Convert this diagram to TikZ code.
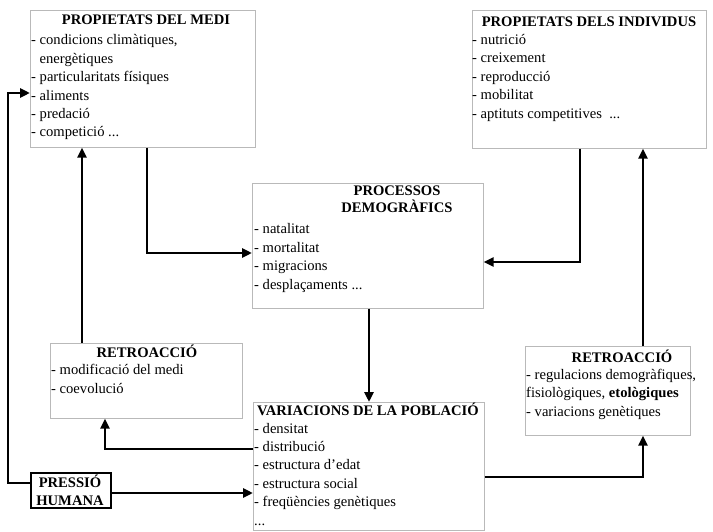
\documentclass[tikz,border=0pt]{standalone}
\usepackage{fontspec}
\setmainfont{Liberation Serif}
\usetikzlibrary{arrows.meta,positioning}

\begin{document}
\begin{tikzpicture}[x=1pt, y=-1pt,
  box/.style={draw=gray!55, line width=0.6pt, anchor=north west, inner sep=0pt},
  hd/.style={font=\fontsize{14.6}{17.5}\selectfont\bfseries, anchor=base, align=center, inner sep=0pt},
  lst/.style={font=\fontsize{14.6}{18.4}\selectfont, anchor=base west, align=left, inner sep=0pt},
  arr/.style={-{Triangle[length=10pt, width=9pt]}, line width=2.5pt}]
\useasboundingbox (0,0) rectangle (713,532);
% boxes
\node[box, minimum width=225pt, minimum height=137pt] (medi) at (30,10) {};
\node[box, minimum width=234pt, minimum height=138pt] (indiv) at (472,10) {};
\node[box, minimum width=231pt, minimum height=125pt] (proc) at (252,183) {};
\node[box, minimum width=231pt, minimum height=128pt] (var) at (253,402) {};
\node[box, minimum width=192pt, minimum height=75pt] (retroL) at (50,343) {};
\node[box, minimum width=165pt, minimum height=89pt] (retroR) at (525,346) {};
\node[box, draw=black, line width=1.6pt, minimum width=80pt, minimum height=35pt] (press) at (30,472) {};
% texts (multi-line nodes sit on their last baseline)
\node[hd] (mediH) at (146,25) {PROPIETATS DEL MEDI};
\node[lst] (mediL) at (31,137) {- condicions climàtiques,\\\phantom{- }energètiques\\- particularitats físiques\\- aliments\\- predació\\- competició ...};
\node[hd] (indivH) at (589,27) {PROPIETATS DELS INDIVIDUS};
\node[lst] (indivL) at (472,119) {- nutrició\\- creixement\\- reproducció\\- mobilitat\\[1pt]- aptituts competitives \ ...};
\node[hd] (procH) at (397,213) {PROCESSOS\\DEMOGRÀFICS};
\node[lst] (procL) at (254,289) {- natalitat\\- mortalitat\\- migracions\\- desplaçaments ...};
\node[hd, anchor=base west] (varH) at (257,415) {VARIACIONS DE LA POBLACIÓ};
\node[lst] (varL) at (254,525) {- densitat\\- distribució\\- estructura d’edat\\- estructura social\\- freqüències genètiques\\...};
\node[hd] (retroLH) at (147,357) {RETROACCIÓ};
\node[lst] (retroLL) at (51,393) {- modificació del medi\\- coevolució};
\node[hd] (retroRH) at (622,362) {RETROACCIÓ};
\node[lst] (retroRL) at (526,416) {- regulacions demogràfiques,\\fisiològiques, \textbf{etològiques}\\- variacions genètiques};
\node[hd] (pressH) at (70,505) {PRESSIÓ\\HUMANA};
% connectors
\coordinate (c1) at (147,253);
\coordinate (c2) at (580,262);
\coordinate (c3) at (369,0);
\coordinate (c4) at (105,449);
\coordinate (c5) at (82,0);
\coordinate (c6) at (643,477);
\coordinate (c7) at (8,483);
\coordinate (c8) at (8,93);
\coordinate (c9) at (0,493);
\draw[arr] (medi.south -| c1) |- (proc.west |- c1);
\draw[arr] (indiv.south -| c2) |- (proc.east |- c2);
\draw[arr] (proc.south -| c3) -- (var.north -| c3);
\draw[arr] (var.west |- c4) -| (retroL.south -| c4);
\draw[arr] (retroL.north -| c5) -- (medi.south -| c5);
\draw[arr] (var.east |- c6) -| (retroR.south -| c6);
\draw[arr] (retroR.north -| c6) -- (indiv.south -| c6);
\draw[arr] (press.west |- c7) -- (c7) -- (c8) -- (medi.west |- c8);
\draw[arr] (press.east |- c9) -- (var.west |- c9);
\end{tikzpicture}
\end{document}
